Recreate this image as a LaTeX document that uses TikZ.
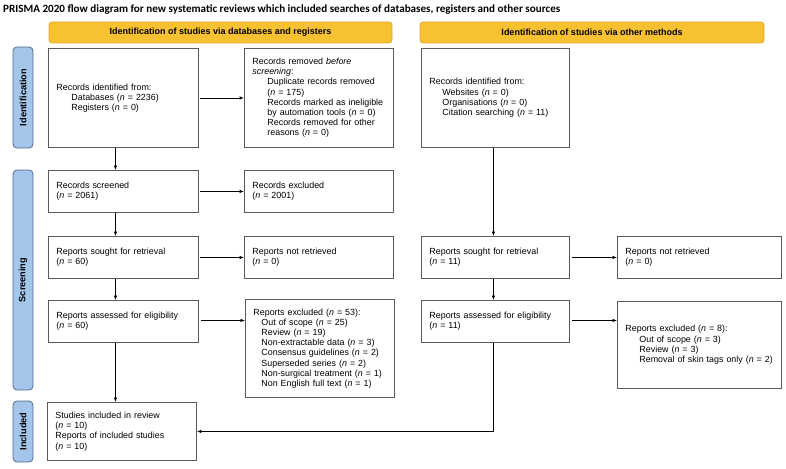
\documentclass[tikz,border=0pt]{standalone}
\usepackage{fontspec}
\setmainfont{Liberation Sans}
\newfontfamily\titlefont{Carlito}
\usetikzlibrary{arrows.meta}
\definecolor{hdrfill}{HTML}{F8C132}
\definecolor{hdrdraw}{HTML}{E3A82A}
\definecolor{sidefill}{HTML}{A3C6EA}
\definecolor{sidedraw}{HTML}{4F6A8A}
\definecolor{boxgray}{HTML}{5A5A5A}
\newcommand\boxfont{\fontsize{8.9pt}{10.2pt}\selectfont}
\tikzset{
  box/.style={draw=boxgray, line width=0.9pt, fill=white, inner xsep=8pt, inner ysep=2pt,
    align=left, font=\boxfont, anchor=north west},
  hdr/.style={draw=hdrdraw, line width=0.8pt, fill=hdrfill, rounded corners=3pt,
    font=\bfseries\fontsize{9pt}{10pt}\selectfont, inner sep=0pt},
  side/.style={draw=sidedraw, line width=0.8pt, fill=sidefill, rounded corners=4pt, rotate=90,
    font=\bfseries\fontsize{9.2pt}{10pt}\selectfont, inner sep=0pt},
  arr/.style={-{Latex[length=4.5pt,width=3.5pt]}, line width=0.7pt, black},
}
\newcommand\nn{\textit{n}}
\begin{document}
\begin{tikzpicture}[x=1pt,y=-1pt]
\useasboundingbox (0,0) rectangle (786,468);

\node[anchor=base west, inner sep=0pt, font=\titlefont\bfseries\fontsize{11.1pt}{12pt}\selectfont] (title) at (3,12.5)
  {PRISMA 2020 flow diagram for new systematic reviews which included searches of databases, registers and other sources};

\node[hdr, minimum width=343pt, minimum height=21pt] (h1) at (220.5,32.5) {Identification of studies via databases and registers};
\node[hdr, minimum width=344pt, minimum height=21pt] (h2) at (592,32.5) {Identification of studies via other methods};

\node[side, minimum width=101pt, minimum height=20pt] (s1) at (23,97.5) {Identification};
\node[side, minimum width=220pt, minimum height=20pt] (s2) at (23,280) {Screening};
\node[side, minimum width=61pt, minimum height=20pt] (s3) at (23,431.5) {Included};

% left column
\node[box, text width=134pt, minimum height=99pt] (id) at (48,48)
  {Records identified from:\\\hspace*{15pt}Databases (\nn{} = 2236)\\\hspace*{15pt}Registers (\nn{} = 0)};
\node[box, text width=133pt, minimum height=99pt] (rem) at (244,48)
  {Records removed \textit{before}\\\textit{screening}:\\
   \hspace*{15pt}Duplicate records removed\\\hspace*{15pt}(\nn{} = 175)\\
   \hspace*{15pt}Records marked as ineligible\\\hspace*{15pt}by automation tools (\nn{} = 0)\\
   \hspace*{15pt}Records removed for other\\\hspace*{15pt}reasons (\nn{} = 0)};
\node[box, text width=134pt, minimum height=42pt] (scr) at (48,170)
  {Records screened\\(\nn{} = 2061)};
\node[box, text width=133pt, minimum height=42pt] (exc) at (244,170)
  {Records excluded\\(\nn{} = 2001)};
\node[box, text width=134pt, minimum height=42pt] (sought) at (48,236)
  {Reports sought for retrieval\\(\nn{} = 60)};
\node[box, text width=133pt, minimum height=42pt] (notret) at (244,236)
  {Reports not retrieved\\(\nn{} = 0)};
\node[box, text width=134pt, minimum height=42pt] (elig) at (48,300)
  {Reports assessed for eligibility\\(\nn{} = 60)};
\node[box, text width=133pt, minimum height=98pt] (rexc) at (245,299)
  {Reports excluded (\nn{} = 53):\\
   \hspace*{8pt}Out of scope (\nn{} = 25)\\
   \hspace*{8pt}Review (\nn{} = 19)\\
   \hspace*{8pt}Non-extractable data (\nn{} = 3)\\
   \hspace*{8pt}Consensus guidelines (\nn{} = 2)\\
   \hspace*{8pt}Superseded series (\nn{} = 2)\\
   \hspace*{8pt}Non-surgical treatment (\nn{} = 1)\\
   \hspace*{8pt}Non English full text (\nn{} = 1)};
\node[box, text width=133pt, minimum height=58pt] (incl) at (47,402)
  {Studies included in review\\(\nn{} = 10)\\Reports of included studies\\(\nn{} = 10)};

% right column
\node[box, text width=132pt, minimum height=99pt] (oid) at (421,48)
  {Records identified from:\\\hspace*{13pt}Websites (\nn{} = 0)\\\hspace*{13pt}Organisations (\nn{} = 0)\\\hspace*{13pt}Citation searching (\nn{} = 11)};
\node[box, text width=132pt, minimum height=42pt] (osought) at (421,236)
  {Reports sought for retrieval\\(\nn{} = 11)};
\node[box, text width=148pt, minimum height=42pt] (onotret) at (617,236)
  {Reports not retrieved\\(\nn{} = 0)};
\node[box, text width=132pt, minimum height=42pt] (oelig) at (421,300)
  {Reports assessed for eligibility\\(\nn{} = 11)};
\node[box, text width=148pt, minimum height=87pt] (oexc) at (617,301)
  {Reports excluded (\nn{} = 8):\\
   \hspace*{14pt}Out of scope (\nn{} = 3)\\
   \hspace*{14pt}Review (\nn{} = 3)\\
   \hspace*{14pt}Removal of skin tags only (\nn{} = 2)};

% arrows
\draw[arr] ([xshift=1pt]id.east) -- (rem.west |- id.east);
\draw[arr] ([xshift=-8pt]id.south) -- ([xshift=-8pt]id.south |- scr.north);
\draw[arr] ([xshift=1pt]scr.east) -- (exc.west |- scr.east);
\draw[arr] ([xshift=-8pt]scr.south) -- ([xshift=-8pt]scr.south |- sought.north);
\draw[arr] ([xshift=1pt]sought.east) -- (notret.west |- sought.east);
\draw[arr] ([xshift=-8pt]sought.south) -- ([xshift=-8pt]sought.south |- elig.north);
\draw[arr] ([xshift=2pt,yshift=1pt]elig.east) -- ([yshift=1pt]rexc.west |- elig.east);
\draw[arr] ([xshift=-8pt]elig.south) -- ([xshift=-8pt]elig.south |- incl.north);

\draw[arr] ([xshift=-2pt]oid.south) -- ([xshift=-2pt]oid.south |- osought.north);
\draw[arr] ([xshift=2pt]osought.east) -- (onotret.west |- osought.east);
\draw[arr] ([xshift=-2pt]osought.south) -- ([xshift=-2pt]osought.south |- oelig.north);
\draw[arr] ([xshift=2pt,yshift=1pt]oelig.east) -- ([yshift=1pt]oexc.west |- oelig.east);
\draw[arr] ([xshift=-2pt]oelig.south) |- (incl.east);
\end{tikzpicture}
\end{document}
